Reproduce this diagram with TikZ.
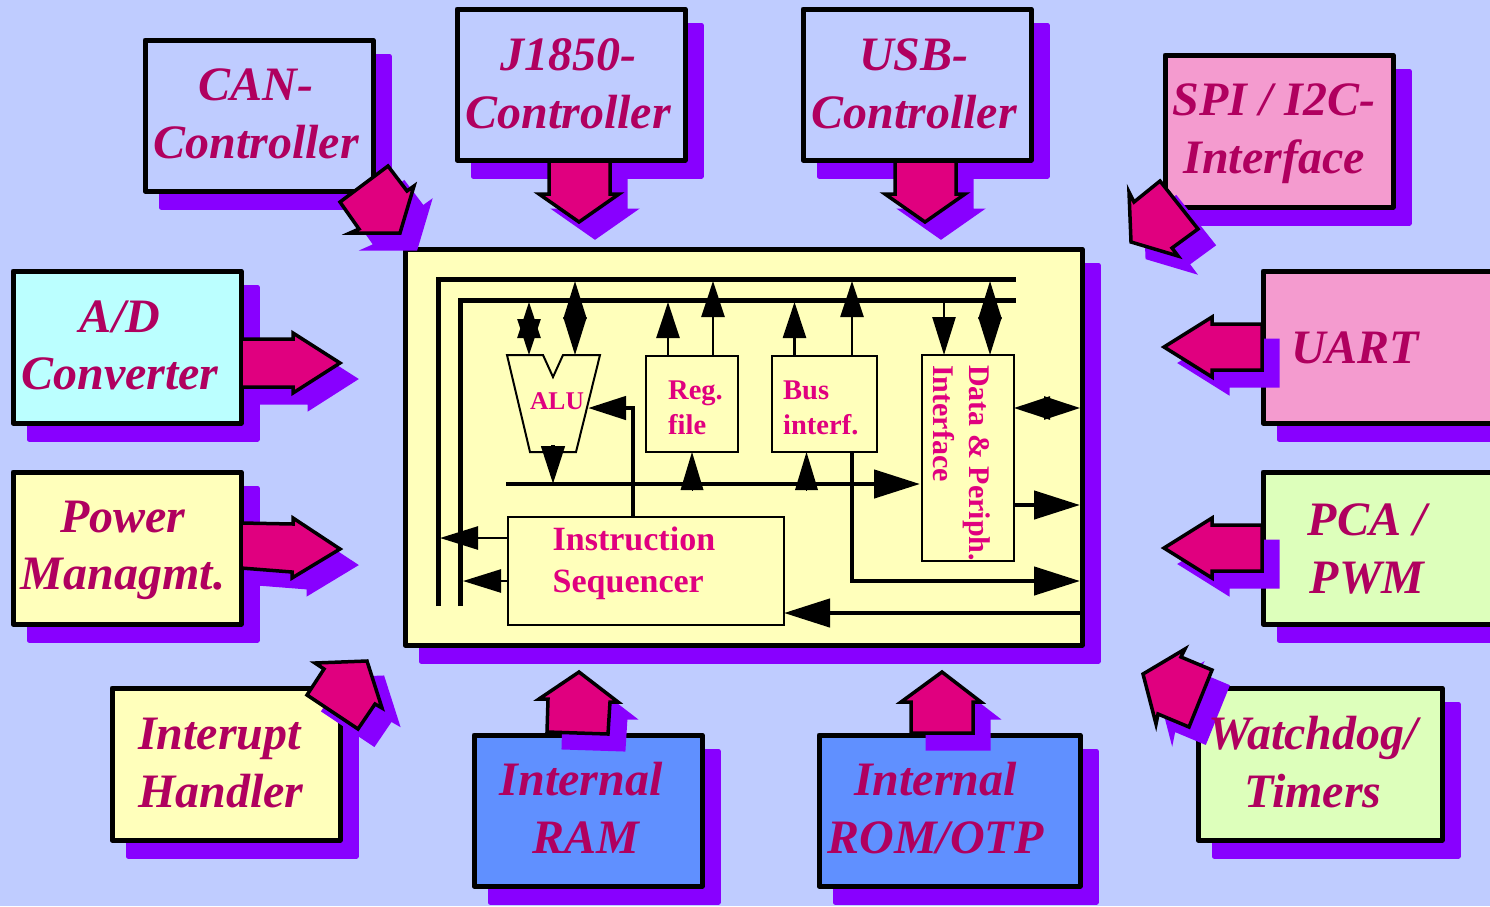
\documentclass[tikz,border=0pt]{standalone}
\usepackage{fontspec}
\setmainfont{Liberation Serif}
\usepackage{tikz}
\usetikzlibrary{arrows.meta, shadows}
\definecolor{backc}{HTML}{BFCCFF}
\definecolor{shadowc}{HTML}{8800FF}
\definecolor{arrowc}{HTML}{E0007F}
\definecolor{outertextc}{HTML}{B0005F}
\definecolor{yellowc}{HTML}{FFFFBB}
\definecolor{cyanc}{HTML}{BBFFFF}
\definecolor{pinkc}{HTML}{F49BCF}
\definecolor{greenc}{HTML}{DDFFBB}
\definecolor{bluec}{HTML}{6090FF}
\newcommand{\blockarrow}[1]{
  \filldraw[shadowc, line width=3pt, shift={(16,16)}] #1 -- cycle;
  \draw[black, fill=arrowc, line width=3.5pt, line join=miter] #1 -- cycle;
}
\tikzset{
  unitbox/.style={draw=black, line width=5pt, inner sep=0pt, outer sep=0pt, line join=round,
    copy shadow={shadow xshift=16pt, shadow yshift=-16pt, draw=shadowc, fill=shadowc}},
  innerbox/.style={draw=black, line width=2pt, fill=yellowc, inner sep=0pt, outer sep=0pt},
  biglabel/.style={font=\fontsize{48}{57.5}\selectfont\bfseries\itshape, text=outertextc, inner sep=0pt, align=center},
  midlabel/.style={font=\fontsize{34}{42}\selectfont\bfseries, text=arrowc, inner sep=0pt, align=left},
  smalllabel/.style={font=\fontsize{28.5}{35}\selectfont\bfseries, text=arrowc, inner sep=0pt, align=left},
  buswire/.style={line width=5pt, line cap=butt},
  thinup/.style={line width=2.5pt, -{Triangle[length=36pt,width=23pt]}},
  thinboth/.style={line width=2.5pt, {Triangle[length=36pt,width=23pt]}-{Triangle[length=36pt,width=23pt]}},
  diamondboth/.style={line width=2.5pt, {Triangle[length=38pt,width=23pt]}-{Triangle[length=38pt,width=23pt]}},
  thickto/.style={line width=4.5pt, -{Triangle[length=46pt,width=28pt]}},
  midto/.style={line width=4.5pt, -{Triangle[length=38pt,width=23pt]}},
}
\begin{document}
\begin{tikzpicture}[x=1pt, y=-1pt]
  \useasboundingbox (0,0) rectangle (1490,906);
  \clip (0,0) rectangle (1490,906);
  \fill[backc] (0,0) rectangle (1490,906);

  \node[unitbox, fill=backc, minimum width=228pt, minimum height=151pt] (can) at (259,115.5) {};
  \node[unitbox, fill=backc, minimum width=228pt, minimum height=151pt] (jbus) at (571,84.5) {};
  \node[unitbox, fill=backc, minimum width=228pt, minimum height=151pt] (usb) at (917,84.5) {};
  \node[unitbox, fill=pinkc, minimum width=228pt, minimum height=152pt] (spi) at (1279,131) {};
  \node[unitbox, fill=cyanc, minimum width=228pt, minimum height=152pt] (adc) at (127,347) {};
  \node[unitbox, fill=yellowc, minimum width=228pt, minimum height=152pt] (power) at (127,548) {};
  \node[unitbox, fill=yellowc, minimum width=228pt, minimum height=152pt] (irq) at (226,764) {};
  \node[unitbox, fill=bluec, minimum width=228pt, minimum height=151pt] (ram) at (588,810.5) {};
  \node[unitbox, fill=bluec, minimum width=261pt, minimum height=151pt] (rom) at (949.5,810.5) {};
  \node[unitbox, fill=greenc, minimum width=244pt, minimum height=152pt] (wdog) at (1320,764) {};
  \node[unitbox, fill=pinkc, minimum width=260pt, minimum height=152pt] (uart) at (1393,347) {};
  \node[unitbox, fill=greenc, minimum width=260pt, minimum height=152pt] (pca) at (1393,548) {};
  \node[unitbox, fill=yellowc, minimum width=677pt, minimum height=396pt] (cpu) at (743.5,447) {};

  \blockarrow{(388,166) -- (407,191) -- (414,186) -- (400,233) -- (350,233) -- (359,229) -- (340,202)}
  \blockarrow{(549,161) -- (610,161) -- (610,194) -- (619,194) -- (579,222) -- (539,194) -- (549,194)}
  \blockarrow{(895,161) -- (956,161) -- (956,194) -- (965,194) -- (925,222) -- (885,194) -- (895,194)}
  \blockarrow{(1160,181) -- (1198,229) -- (1172,248) -- (1178,256) -- (1131,242) -- (1129,192) -- (1134,202)}
  \blockarrow{(241,339) -- (293,339) -- (293,333) -- (340,363) -- (293,393) -- (293,387) -- (241,387)}
  \blockarrow{(241,523) -- (293,524) -- (293,518) -- (340,549) -- (292,578) -- (292,572) -- (241,568)}
  \blockarrow{(1262,324) -- (1212,324) -- (1212,317) -- (1164,347) -- (1212,377) -- (1212,370) -- (1262,370)}
  \blockarrow{(1262,525) -- (1212,525) -- (1212,518) -- (1164,548) -- (1212,578) -- (1212,571) -- (1262,571)}
  \blockarrow{(367,661) -- (382,708) -- (375,704) -- (358,729) -- (307,695) -- (324,669) -- (315,663)}
  \blockarrow{(579,672) -- (618,702) -- (610,702) -- (608,734) -- (547,732) -- (548,699) -- (539,699)}
  \blockarrow{(942,672) -- (981,702) -- (973,702) -- (973,733) -- (911,733) -- (911,702) -- (901,702)}
  \blockarrow{(1143,674) -- (1185,649) -- (1181,657) -- (1212,670) -- (1189,727) -- (1158,714) -- (1156,724)}

  \coordinate (busa) at (438,279);
  \coordinate (busb) at (460,300);
  \coordinate (databus) at (506,484);
  \draw[buswire] (438,606) -- (busa) -- (1016,279);
  \draw[buswire] (460,606) -- (busb) -- (1016,300);

  \coordinate (alua) at (529,355);
  \coordinate (alub) at (575,355);
  \coordinate (aluout) at (553,445);
  \coordinate (aluin) at (588,408);
  \draw[innerbox] (507,355) -- (543,355) -- (553,377) -- (563,355) -- (600,355) -- (576,452) -- (530,452) -- cycle;

  \node[innerbox, minimum width=92pt, minimum height=96pt] (regfile) at (692,404) {};
  \node[innerbox, minimum width=105pt, minimum height=96pt] (businterf) at (824.5,404) {};
  \node[innerbox, minimum width=92pt, minimum height=206pt] (periph) at (968,458) {};
  \node[innerbox, minimum width=276pt, minimum height=108pt] (seq) at (646,571) {};

  \draw[thickto] (databus) -- (920,484);
  \draw[thinboth] (alua) -- (alua |- 0,302);
  \draw[diamondboth] (alub) -- (alub |- 0,281);
  \draw[midto] (aluout) -- (aluout |- databus);
  \draw[thinup] ([xshift=-24pt]regfile.north) -- ([xshift=-24pt]regfile.north |- 0,302);
  \draw[thinup] ([xshift=21pt]regfile.north) -- ([xshift=21pt]regfile.north |- 0,281);
  \draw[thinup] ([xshift=-30pt]businterf.north) -- ([xshift=-30pt]businterf.north |- 0,302);
  \draw[thinup] ([xshift=27.5pt]businterf.north) -- ([xshift=27.5pt]businterf.north |- 0,281);
  \draw[midto, line width=2.5pt] ([xshift=-24pt]periph.north |- busb) -- ([xshift=-24pt]periph.north);
  \draw[diamondboth] ([xshift=22pt]periph.north) -- ([xshift=22pt]periph.north |- 0,281);
  \draw[midto, line width=0pt] ([yshift=-6pt]regfile.south |- databus) -- (regfile.south);
  \draw[midto, line width=0pt] ([xshift=-18pt,yshift=-6pt]businterf.south |- databus) -- ([xshift=-18pt]businterf.south);

  \coordinate (periphio) at (periph.east |- 0,408);
  \coordinate (periphout) at (periph.east |- 0,505);
  \draw[thinboth] (periphio) -- (1080,408);
  \draw[thickto] (periphout) -- (1080,505);
  \draw[thickto] ([xshift=27.5pt]businterf.south) -- ([xshift=27.5pt]businterf.south |- 0,581) -- (1080,581);
  \draw[thickto] (cpu.east |- 0,613) -- (seq.east |- 0,613);
  \draw[midto] (seq.north -| 633,0) -- (633,408) -- (aluin);
  \draw[midto, line width=2.5pt] (seq.west |- 0,538) -- (440,538);
  \draw[midto, line width=2.5pt] (seq.west |- 0,581) -- (463,581);

  \node[biglabel] (canlabel) at (256,114) {CAN-\\Controller};
  \node[biglabel] (jbuslabel) at (568,84) {J1850-\\Controller};
  \node[biglabel] (usblabel) at (914,84) {USB-\\Controller};
  \node[biglabel] (spilabel) at (1274,133.5) {SPI / I2C-\\Interface};
  \node[biglabel] (adclabel) at (120,345.5) {A/D\\Converter};
  \node[biglabel] (powerlabel) at (123,550.5) {Power\\Managmt.};
  \node[biglabel, align=left, anchor=west] (irqlabel) at (138,763) {Interupt\\Handler};
  \node[biglabel] (ramlabel) at (581,808) {Internal\\\hspace*{10pt}RAM};
  \node[biglabel] (romlabel) at (935.5,808) {Internal\\ROM/OTP};
  \node[biglabel] (uartlabel) at (1355,348) {UART};
  \node[biglabel] (pcalabel) at (1367,549) {PCA /\\PWM};
  \node[biglabel] (wdoglabel) at (1313,762) {Watchdog/\\Timers};

  \node[midlabel, anchor=west] (seqlabel) at (552.5,563) {Instruction\\Sequencer};
  \node[smalllabel, anchor=west] (reglabel) at (668,408) {Reg.\\file};
  \node[smalllabel, anchor=west] (buslabel) at (783,408) {Bus\\interf.};
  \node[smalllabel, font=\fontsize{25.5}{30}\selectfont\bfseries] (alulabel) at (557,401) {ALU};
  \node[smalllabel, font=\fontsize{30}{36}\selectfont\bfseries, rotate=-90, anchor=west] (periphlabel) at (961.5,365) {Data \& Periph.\\Interface};
\end{tikzpicture}
\end{document}
